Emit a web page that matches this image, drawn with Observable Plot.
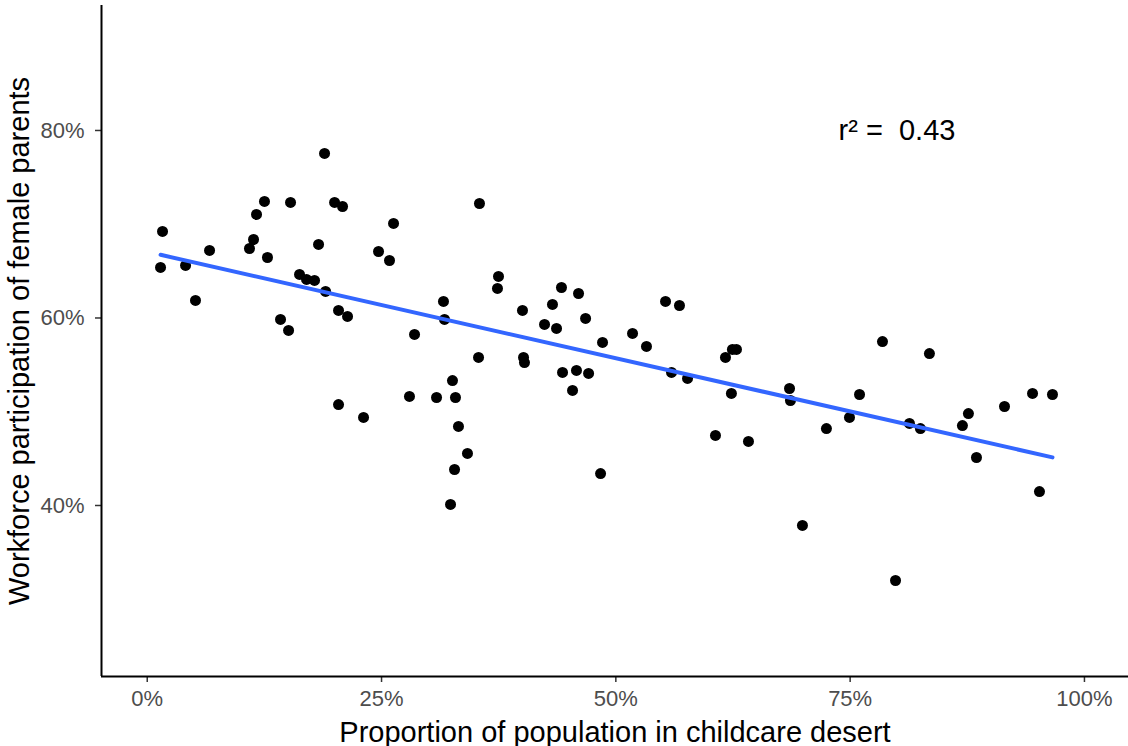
<!DOCTYPE html>
<html>
<head>
<meta charset="utf-8">
<script src="https://cdn.jsdelivr.net/npm/d3@7"></script>
<script src="https://cdn.jsdelivr.net/npm/@observablehq/plot@0.6"></script>
<style>
  html, body { margin: 0; padding: 0; background: #fff; }
  #chart svg { display: block; }
  #chart [aria-label="x-axis tick label"] text,
  #chart [aria-label="y-axis tick label"] text { font-size: 22px; fill: #4d4d4d; }
  #chart [aria-label="x-axis label"] text,
  #chart [aria-label="y-axis label"] text { font-size: 29px; fill: #000; }
</style>
</head>
<body>
<div id="chart"></div>
<script>
// Proportion of population in childcare desert (%)
const desertPct = [
  1.42, 1.63, 4.09, 5.15, 6.65, 10.91, 11.34, 11.66, 12.51, 12.83,
  14.22, 15.08, 15.29, 16.25, 17.0, 17.85, 18.28, 18.92, 19.03, 19.99,
  20.41, 20.84, 21.37, 20.41, 23.08, 24.68, 25.85, 26.28, 27.98, 28.52,
  30.87, 31.61, 31.72, 32.57, 32.89, 33.21, 34.17, 32.79, 32.36, 35.35,
  35.45, 37.48, 37.37, 40.04, 40.15, 40.25, 42.39, 43.24, 43.67, 44.2,
  44.31, 45.38, 45.8, 46.02, 46.77, 47.09, 48.58, 48.37, 51.78, 53.27,
  55.3, 56.79, 55.94, 57.65, 60.63, 61.7, 62.44, 62.87, 62.33, 64.15,
  68.53, 68.63, 69.91, 72.47, 74.93, 76.0, 78.45, 79.84, 81.33, 82.5,
  83.46, 86.98, 87.62, 88.48, 91.47, 94.46, 96.59, 95.2
];
// Workforce participation of female parents (%)
const participationPct = [
  65.39, 69.23, 65.6, 61.87, 67.2, 67.41, 68.37, 71.04, 72.43, 66.45,
  59.84, 58.67, 72.32, 64.64, 64.11, 64.0, 67.84, 77.55, 62.83, 72.32,
  60.8, 71.89, 60.16, 50.77, 49.39, 67.09, 66.13, 70.08, 51.63, 58.24,
  51.52, 61.76, 59.84, 53.33, 51.52, 48.43, 45.55, 43.84, 40.11, 55.79,
  72.21, 64.43, 63.15, 60.8, 55.79, 55.25, 59.31, 61.44, 58.88, 63.25,
  54.19, 52.27, 54.4, 62.61, 59.95, 54.08, 57.39, 43.41, 58.35, 56.96,
  61.76, 61.33, 54.19, 53.55, 47.47, 55.79, 56.64, 56.64, 51.95, 46.83,
  52.48, 51.2, 37.87, 48.21, 49.39, 51.84, 57.49, 32.0, 48.75, 48.21,
  56.21, 48.53, 49.81, 45.12, 50.56, 51.95, 51.84, 41.49
];
const xTicks = [0, 25, 50, 75, 100];
const yTicks = [40, 60, 80];
const xDomain = [-4.88, 104.7];
const yDomain = [21.76, 93.33];
const annotation = [{x: 80, y: 80, label: "r\u00b2 = \u00a00.43"}];

const data = desertPct.map((d, i) => ({x: d, y: participationPct[i]}));

const font = "'Liberation Sans', Arial, Helvetica, sans-serif";

const chart = Plot.plot({
  width: 1128,
  height: 746,
  marginLeft: 101,
  marginRight: 0,
  marginTop: 5,
  marginBottom: 70,
  style: {fontFamily: font, background: "#fff", overflow: "visible"},
  x: {domain: xDomain, ticks: xTicks, tickFormat: d => d + "%"},
  y: {domain: yDomain, ticks: yTicks, tickFormat: d => d + "%"},
  marks: [
    Plot.axisX({
      ticks: xTicks, tickFormat: d => d + "%", tickSize: 6, tickPadding: 8,
      stroke: "#333", strokeWidth: 1.5,
      label: "Proportion of population in childcare desert",
      labelAnchor: "center", labelArrow: "none", labelOffset: 65
    }),
    Plot.axisY({
      ticks: yTicks, tickFormat: d => d + "%", tickSize: 6, tickPadding: 11,
      stroke: "#333", strokeWidth: 1.5,
      label: "Workforce participation of female parents",
      labelAnchor: "center", labelArrow: "none", labelOffset: 93
    }),
    Plot.ruleY([yDomain[0]], {stroke: "#000", strokeWidth: 2}),
    Plot.ruleX([xDomain[0]], {stroke: "#000", strokeWidth: 2}),
    Plot.dot(data, {x: "x", y: "y", r: 5.5, fill: "#000", stroke: "none"}),
    Plot.linearRegressionY(data, {x: "x", y: "y", stroke: "#3366FF", strokeWidth: 4, ci: 0}),
    Plot.text(annotation, {x: "x", y: "y", text: "label", fontSize: 29, fill: "#000", fontFamily: font})
  ]
});

document.getElementById("chart").appendChild(chart);
</script>
</body>
</html>
